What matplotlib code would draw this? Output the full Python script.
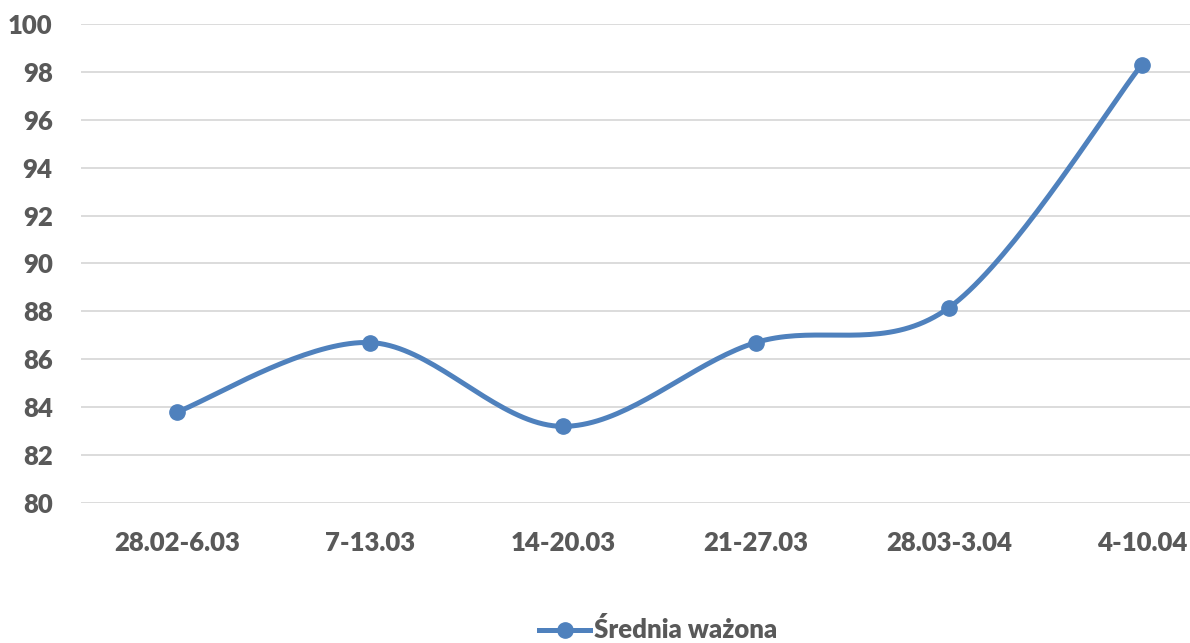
import matplotlib.pyplot as plt
import numpy as np

plt.rcParams['font.family'] = ['Lato', 'DejaVu Sans']

# %%
weeks = ['28.02-6.03', '7-13.03', '14-20.03', '21-27.03', '28.03-3.04', '4-10.04']
srednia = [83.8, 86.7, 83.2, 86.7, 88.15, 98.3]
series_name = 'Średnia ważona'

blue = '#4F81BD'
grey = '#595959'


def smooth(x, y, n=40):
    # Excel-like smoothed line (Catmull-Rom as cubic Bezier)
    p = np.column_stack([x, y]).astype(float)
    p = np.vstack([p[0], p, p[-1]])
    out = []
    t = np.linspace(0, 1, n)[:, None]
    for i in range(1, len(p) - 2):
        b0 = p[i]
        b1 = p[i] + (p[i + 1] - p[i - 1]) / 6
        b2 = p[i + 1] - (p[i + 2] - p[i]) / 6
        b3 = p[i + 1]
        seg = ((1 - t) ** 3 * b0 + 3 * (1 - t) ** 2 * t * b1
               + 3 * (1 - t) * t ** 2 * b2 + t ** 3 * b3)
        out.append(seg if i == 1 else seg[1:])
    out = np.vstack(out)
    return out[:, 0], out[:, 1]


# %%
x = np.arange(len(weeks))
fig = plt.figure(figsize=(11.9, 6.43), dpi=100)
ax = fig.add_axes([80.5 / 1190, 1 - 503 / 643, (1190 - 80.5) / 1190, (503 - 24) / 643])

sx, sy = smooth(x, srednia)
ax.plot(sx, sy, color=blue, lw=3.6, solid_capstyle='round', zorder=3)
ax.plot(x, srednia, 'o', color=blue, ms=11, zorder=4)
ax.plot([], [], '-o', color=blue, lw=3.6, ms=11, label=series_name)

ax.set_xlim(-0.5, 5.25)
ax.set_ylim(80, 100)
ax.set_yticks(np.arange(80, 101, 2))
ax.set_xticks(x)
ax.set_xticklabels(weeks)
ax.grid(axis='y', color='#D9D9D9', lw=1.3)
ax.set_axisbelow(True)
for s in ax.spines.values():
    s.set_visible(False)
ax.tick_params(length=0, labelsize=18.5, labelcolor=grey)
ax.tick_params(axis='y', pad=20)
ax.tick_params(axis='x', pad=20)
for lab in ax.get_xticklabels() + ax.get_yticklabels():
    lab.set_fontweight('heavy')

fig.legend(loc='center', bbox_to_anchor=(0.553, 1 - 630 / 643), frameon=False,
           prop={'size': 18.5, 'weight': 'heavy'}, labelcolor=grey,
           handlelength=2.0, handletextpad=0.15)

plt.savefig('out.png')
